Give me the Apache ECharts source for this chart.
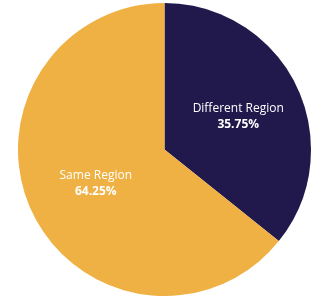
<!DOCTYPE html>
<html><head><meta charset="utf-8">
<script src="https://cdn.jsdelivr.net/npm/echarts@6/dist/echarts.min.js"></script>
<style>html,body{margin:0;padding:0;background:#fff}#c{width:329px;height:303px}</style>
</head><body><div id="c"></div>
<script>
const categories = ["Different Region", "Same Region"];
const values = [35.75, 64.25];
const colors = ["#21184c", "#efb143"];
const offsets = [[5, 0], [0, 1]];

const chart = echarts.init(document.getElementById('c'), null, {renderer: 'canvas'});
chart.setOption({
  animation: false,
  series: [{
    type: 'pie',
    center: [164.5, 149.5],
    radius: [0, 146.5],
    startAngle: 90,
    clockwise: true,
    silent: true,
    label: {
      show: true,
      position: 'inside',
      formatter: p => '{n|' + p.name + '}\n{v|' + p.value.toFixed(2) + '%}',
      rich: {
        n: {fontFamily: 'Open Sans', fontSize: 12, color: '#ffffff', lineHeight: 16, align: 'center'},
        v: {fontFamily: 'Open Sans', fontSize: 12, fontWeight: 'bold', color: '#ffffff', lineHeight: 16, align: 'center'}
      }
    },
    labelLine: {show: false},
    itemStyle: {borderWidth: 0},
    data: categories.map((c, i) => ({
      name: c, value: values[i],
      itemStyle: {color: colors[i]},
      label: {offset: offsets[i]}
    }))
  }]
});
</script></body></html>
